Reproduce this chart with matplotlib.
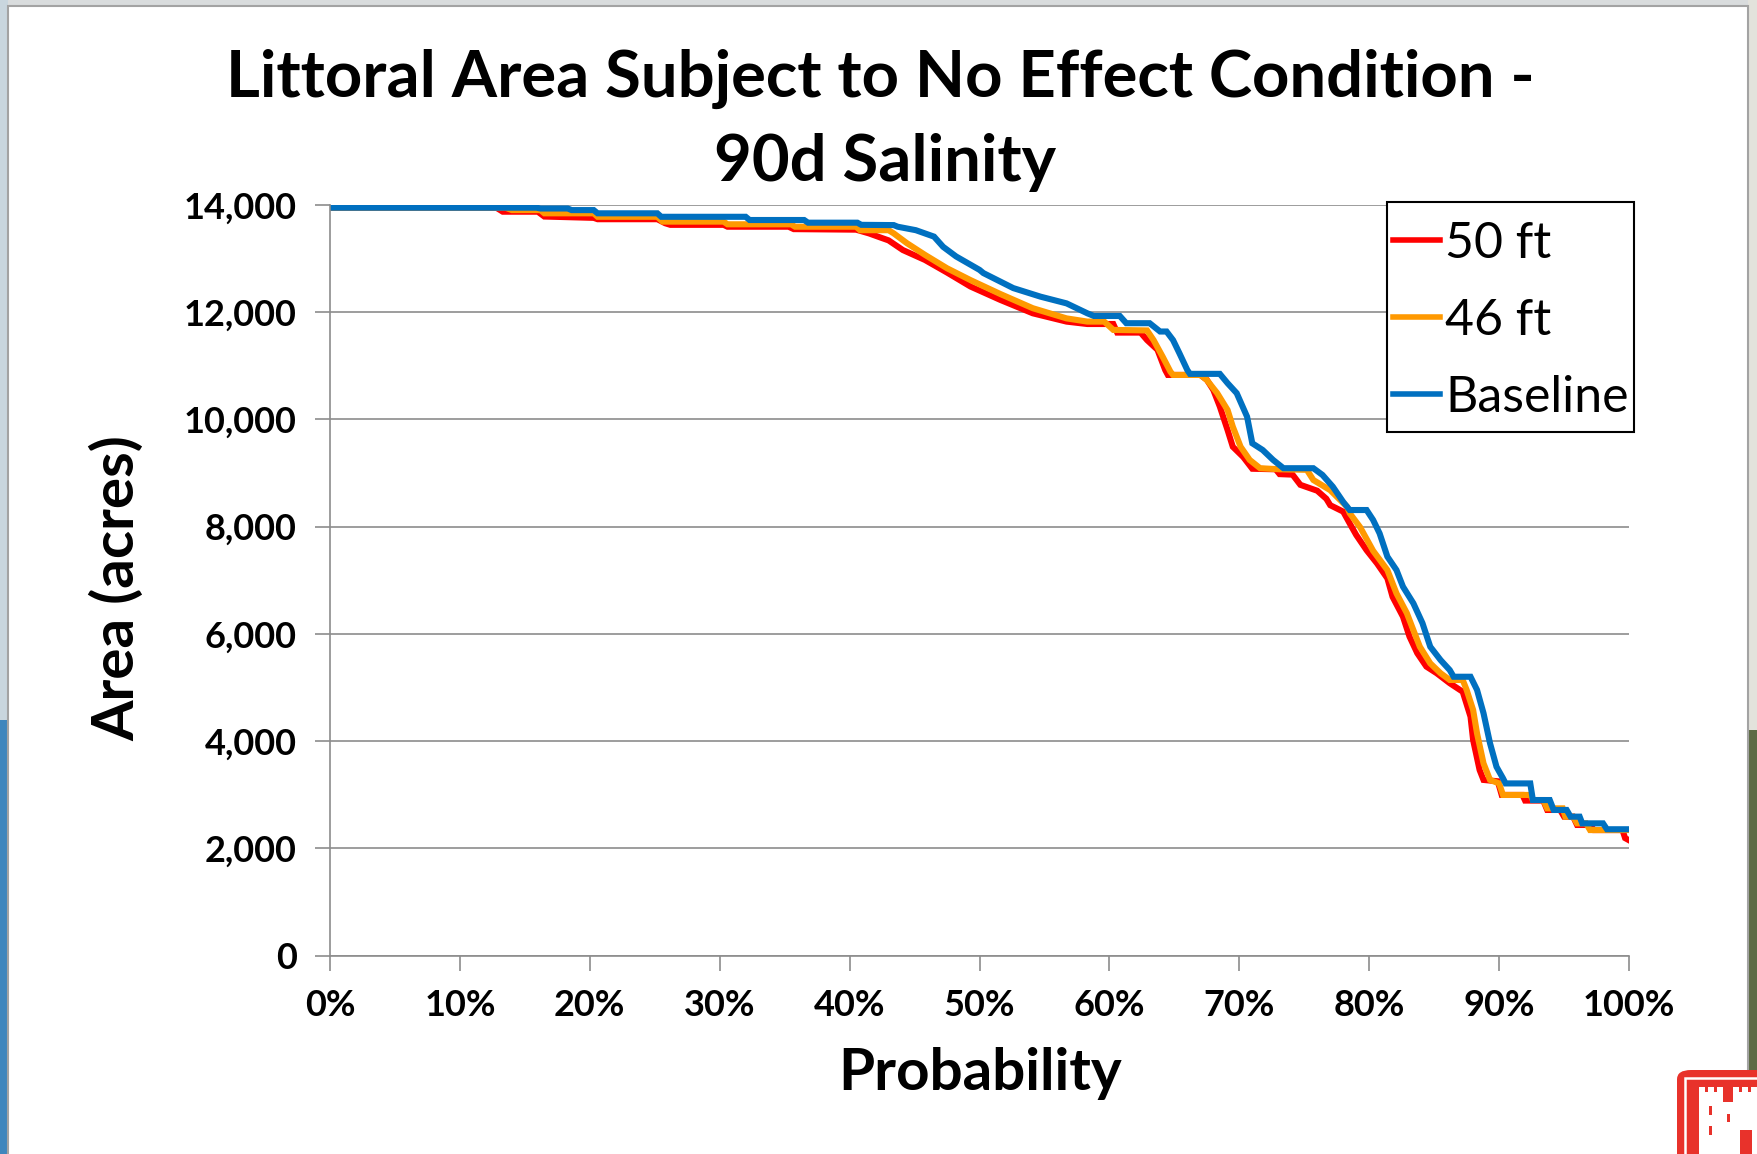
import numpy as np
import matplotlib.pyplot as plt
from matplotlib.patches import Rectangle, FancyBboxPatch
from matplotlib.ticker import FuncFormatter, MultipleLocator

# --- Canvas (pixels) ---
W, H = 1757, 1154
DPI = 100

FONT = "Lato"

# --- Exceedance curves: probability (%) vs littoral area (acres) ---
prob_50ft = [0, 12.8, 13.3, 16.0, 16.5, 20.3, 20.6, 25.2, 25.8, 26.2, 30.3, 30.6, 35.3, 35.7,
             40.5, 41.5, 42.3, 43.0, 44.1, 45.8, 47.5, 49.3, 51.6, 54.1, 56.7, 58.3, 60.3, 60.6,
             62.4, 62.9, 63.7, 64.3, 64.5, 67.0, 67.5, 68.0, 68.5, 69.1, 69.5, 70.3, 71.0, 72.8,
             73.1, 74.1, 74.7, 76.0, 76.7, 77.0, 78.0, 78.5, 79.0, 79.8, 80.6, 81.4, 81.8, 82.6,
             83.1, 83.7, 84.4, 85.2, 86.2, 87.2, 87.8, 88.0, 88.5, 88.8, 89.9, 90.2, 91.8, 92.0,
             93.4, 93.7, 94.7, 95.0, 95.7, 96.0, 97.0, 97.3, 99.5, 99.7, 100]
area_50ft = [13950, 13950, 13875, 13875, 13785, 13760, 13735, 13735, 13660, 13630, 13630, 13595,
             13595, 13550, 13540, 13470, 13400, 13340, 13160, 12975, 12740, 12480, 12230, 11980,
             11825, 11780, 11780, 11620, 11620, 11480, 11300, 10920, 10830, 10830, 10740, 10550,
             10240, 9800, 9490, 9300, 9080, 9070, 8980, 8970, 8780, 8670, 8520, 8400, 8280, 8060,
             7845, 7560, 7315, 7035, 6690, 6320, 5950, 5640, 5390, 5265, 5080, 4920, 4455, 4020,
             3460, 3275, 3250, 2995, 2995, 2890, 2890, 2715, 2715, 2590, 2590, 2435, 2435, 2340,
             2340, 2190, 2150]

prob_46ft = [0, 13.5, 14.0, 16.2, 16.5, 20.3, 20.6, 25.2, 25.6, 30.3, 30.6, 35.5, 35.8, 40.5,
             40.8, 43.0, 43.4, 44.4, 45.8, 47.5, 49.3, 51.6, 54.1, 56.7, 58.3, 59.6, 60.3, 62.9,
             63.4, 64.1, 64.7, 64.9, 67.0, 67.5, 68.3, 69.1, 69.5, 70.1, 70.8, 71.6, 73.1, 75.2,
             75.7, 77.0, 78.3, 78.5, 79.3, 80.3, 81.4, 82.1, 82.9, 83.4, 83.9, 84.7, 85.5, 86.2,
             87.2, 87.5, 88.0, 88.3, 88.8, 89.3, 90.0, 90.3, 92.4, 92.6, 93.4, 93.7, 94.9, 95.1,
             95.7, 96.0, 96.7, 97.0, 100]
area_46ft = [13950, 13950, 13905, 13905, 13845, 13845, 13780, 13780, 13690, 13690, 13640, 13640,
             13595, 13595, 13530, 13530, 13470, 13290, 13070, 12820, 12600, 12340, 12075, 11885,
             11825, 11825, 11670, 11660, 11480, 11170, 10890, 10830, 10830, 10735, 10490, 10175,
             9865, 9490, 9245, 9090, 9070, 9060, 8870, 8680, 8370, 8250, 7990, 7550, 7190, 6755,
             6385, 6070, 5760, 5450, 5265, 5140, 5140, 4955, 4580, 4145, 3585, 3275, 3210, 2995,
             2995, 2900, 2900, 2745, 2745, 2590, 2590, 2465, 2465, 2340, 2340]

prob_base = [0, 15.9, 16.2, 18.3, 18.6, 20.3, 20.6, 25.2, 25.5, 32.0, 32.3, 36.5, 36.8, 40.6,
             40.9, 43.4, 43.7, 45.1, 46.5, 47.2, 48.2, 50.0, 50.3, 52.6, 54.7, 56.7, 58.3, 58.8,
             60.8, 61.3, 63.1, 63.9, 64.4, 64.9, 65.4, 66.0, 66.2, 68.5, 69.1, 69.8, 70.6, 71.0,
             71.8, 72.6, 73.4, 75.7, 76.4, 77.2, 78.0, 78.5, 79.8, 80.3, 80.8, 81.4, 82.1, 82.6,
             83.4, 84.1, 84.7, 85.5, 86.2, 86.5, 87.8, 88.3, 88.8, 89.3, 89.8, 90.3, 90.5, 92.4,
             92.6, 93.9, 94.2, 95.2, 95.5, 96.2, 96.4, 98.0, 98.3, 100]
area_base = [13950, 13950, 13935, 13935, 13905, 13905, 13845, 13845, 13780, 13780, 13720, 13720,
             13670, 13670, 13630, 13625, 13595, 13530, 13410, 13220, 13040, 12790, 12730, 12450,
             12290, 12165, 11980, 11930, 11930, 11795, 11795, 11640, 11640, 11480, 11230, 10920,
             10850, 10850, 10675, 10490, 10050, 9555, 9430, 9245, 9090, 9090, 8965, 8745, 8460,
             8310, 8310, 8125, 7875, 7440, 7190, 6880, 6570, 6200, 5760, 5510, 5325, 5200, 5200,
             4955, 4520, 3960, 3520, 3305, 3210, 3210, 2900, 2900, 2715, 2715, 2590, 2590, 2465,
             2465, 2355, 2355]

series_labels = ["50 ft", "46 ft", "Baseline"]
series_colors = ["#FF0000", "#FF9900", "#0070C0"]

title_lines = ["Littoral Area Subject to No Effect Condition -", "90d Salinity"]


def fx(x):
    return x / W


def fy(y):
    return 1 - y / H


def px_rect(x0, y0, w, h, **kw):
    # rectangle given in pixel coords measured from the top-left corner
    return Rectangle((fx(x0), fy(y0 + h)), w / W, h / H, transform=fig.transFigure, **kw)


fig = plt.figure(figsize=(W / DPI, H / DPI), dpi=DPI, facecolor="white")

# --- slide surroundings: thin strips of the backdrop and the white panel border ---
bg = [
    (0, 0, W, 6, "#d9dcdd"),
    (0, 0, 8, 720, "#c9d6de"),
    (0, 720, 8, H - 720, "#3f86bd"),
    (1748, 0, 9, 730, "#e3e2dc"),
    (1748, 730, 9, H - 730, "#5d6b45"),
]
for x0, y0, w, h, c in bg:
    fig.patches.append(px_rect(x0, y0, w, h, facecolor=c, edgecolor="none"))
fig.patches.append(Rectangle((fx(8), fy(H + 5)), 1740 / W, (H - 1) / H,
                             transform=fig.transFigure, facecolor="none",
                             edgecolor="#a3a3a3", linewidth=1.5))

# --- corner emblem (red castle badge) ---
RED = "#e8322b"
fig.patches.append(FancyBboxPatch((fx(1677), fy(1175)), 100 / W, 105 / H,
                                  boxstyle="round,pad=0,rounding_size=0.008",
                                  transform=fig.transFigure, facecolor=RED, edgecolor="none"))
fig.patches.append(px_rect(1685, 1078, 90, 90, facecolor="none", edgecolor="white",
                           linewidth=1.8))
# castle body, towers and crenellations
for x0, y0, w, h in [(1699, 1100, 58, 54), (1699, 1092, 24, 10), (1733, 1092, 24, 10),
                     (1699, 1087, 6, 6), (1708, 1087, 6, 6), (1717, 1087, 6, 6),
                     (1733, 1087, 6, 6), (1742, 1087, 6, 6), (1751, 1087, 6, 6)]:
    fig.patches.append(px_rect(x0, y0, w, h, facecolor="white", edgecolor="none"))
# slits, gap between towers and the gate
for x0, y0, w, h in [(1723, 1092, 10, 10), (1709, 1106, 3, 9), (1709, 1126, 3, 9),
                     (1727, 1114, 3, 8), (1740, 1130, 12, 24)]:
    fig.patches.append(px_rect(x0, y0, w, h, facecolor=RED, edgecolor="none"))

# --- plot area ---
ax = fig.add_axes([fx(330), fy(955.5), 1299 / W, 750.5 / H])
ax.set_facecolor("none")

curves = [(prob_50ft, area_50ft), (prob_46ft, area_46ft), (prob_base, area_base)]
for (p, a), lab, col in zip(curves, series_labels, series_colors):
    ax.plot(np.array(p) / 100.0, a, color=col, lw=4.4, label=lab, solid_joinstyle="miter")

ax.set_xlim(0, 1)
ax.set_ylim(0, 14000)
ax.xaxis.set_major_locator(MultipleLocator(0.1))
ax.yaxis.set_major_locator(MultipleLocator(2000))
ax.xaxis.set_major_formatter(FuncFormatter(lambda v, _: f"{v * 100:.0f}%"))
ax.yaxis.set_major_formatter(FuncFormatter(lambda v, _: f"{v:,.0f}"))

grid_c = "#8c8c8c"
ax.grid(axis="y", color=grid_c, lw=1.2)
ax.set_axisbelow(True)
for s in ["top", "right"]:
    ax.spines[s].set_visible(False)
for s in ["left", "bottom"]:
    ax.spines[s].set_color(grid_c)
    ax.spines[s].set_linewidth(1.2)
ax.tick_params(direction="out", length=11, width=1.2, color=grid_c)
ax.tick_params(axis="y", pad=13)
ax.tick_params(axis="x", pad=13)
for lbl in ax.get_xticklabels() + ax.get_yticklabels():
    lbl.set_fontfamily(FONT)
    lbl.set_fontweight("bold")
    lbl.set_fontsize(26)

# --- titles ---
fig.text(fx(880), fy(97), title_lines[0], ha="center", va="baseline",
         family=FONT, weight="bold", fontsize=47)
fig.text(fx(885), fy(181), title_lines[1], ha="center", va="baseline",
         family=FONT, weight="bold", fontsize=47)
fig.text(fx(980), fy(1073), "Probability", ha="center", va="center",
         family=FONT, weight="bold", fontsize=42)
fig.text(fx(117), fy(588), "Area (acres)", ha="center", va="center", rotation=90,
         family=FONT, weight="bold", fontsize=42)

# legend entries without frame; the white box sits between the curves and the entries
leg = ax.legend(loc="upper left", bbox_to_anchor=(fx(1393), fy(221)),
                bbox_transform=fig.transFigure, borderaxespad=0, frameon=False,
                prop={"family": FONT, "size": 36}, handlelength=0.94, handletextpad=0.1,
                labelspacing=0.62, borderpad=0)
for hl in leg.get_lines():
    hl.set_linewidth(4)
ax.add_patch(px_rect(1387, 202.5, 247, 229.5, facecolor="white", edgecolor="black",
                     linewidth=1.5, zorder=4.5, clip_on=False))

fig.savefig("out.png", dpi=DPI, facecolor=fig.get_facecolor())
